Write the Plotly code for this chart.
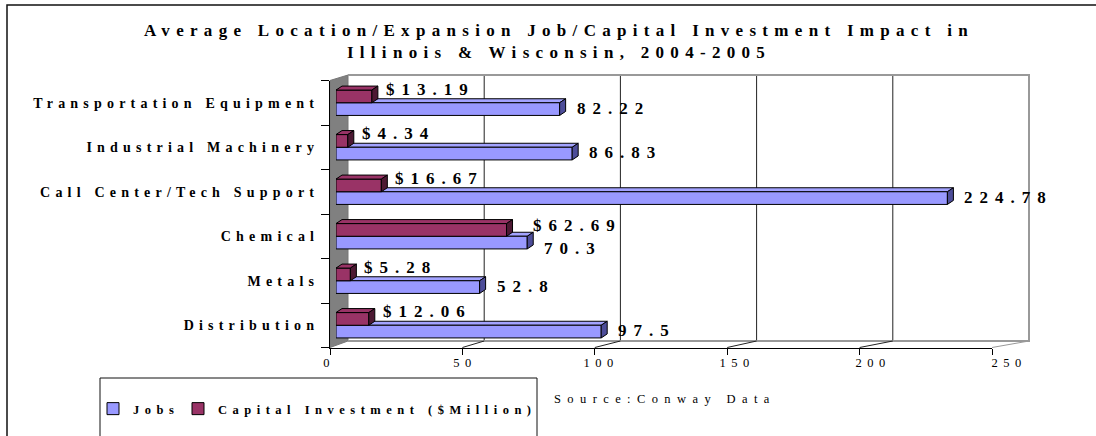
import json
import plotly.graph_objects as go

# ---- data -------------------------------------------------------------
categories = [
    "Transportation Equipment",
    "Industrial Machinery",
    "Call Center/Tech Support",
    "Chemical",
    "Metals",
    "Distribution",
]
jobs = [82.22, 86.83, 224.78, 70.3, 52.8, 97.5]
capital = [13.19, 4.34, 16.67, 62.69, 5.28, 12.06]
x_ticks = [0, 50, 100, 150, 200, 250]
series_names = ["Jobs", "Capital Investment ($Million)"]
title_text = ("Average Location/Expansion Job/Capital Investment Impact in"
              "<br>Illinois & Wisconsin, 2004-2005")
source_text = "Source:Conway Data"

# ---- geometry (pixels, figure origin top-left) -------------------------
W, H = 1096, 436
X_MAX = 250
FRONT_X0, FRONT_X1 = 330, 992        # front axis (tick scale)
WALL_X0, WALL_X1 = 348, 1029         # back wall
WALL_Y0, WALL_Y1 = 75, 341
BAR_X0, BAR_X1 = 336, 1016           # plane the bars are drawn in
CAT_Y0, CAT_Y1 = 80.5, 347.5         # category band
BAR_W = 0.285                        # bar thickness in category units
DEPTH_X, DEPTH_Y = 6, 4              # 3-D face depth in pixels

BLUE, BLUE_TOP, BLUE_DARK = "#9999FF", "#A3A3FF", "#4D4D99"
RED, RED_DARK = "#993366", "#4D1933"
FONT = "Liberation Serif"


def fx(p):
    return p / W


def fy(p):
    return 1 - p / H


def front_px(v):
    return FRONT_X0 + v * (FRONT_X1 - FRONT_X0) / X_MAX


def wall_px(v):
    return WALL_X0 + v * (WALL_X1 - WALL_X0) / X_MAX


bar_ppu = (BAR_X1 - BAR_X0) / X_MAX
band_px = (CAT_Y1 - CAT_Y0) / len(categories)
bar_h = BAR_W * band_px
dx = DEPTH_X / bar_ppu

order = list(reversed(categories))           # bottom-to-top on the axis
idx = [order.index(c) for c in categories]

fig = go.Figure()
# empty trace so the front value axis gets its own subplot
fig.add_trace(go.Scatter(x=[], y=[], xaxis="x", yaxis="y", mode="markers",
                         showlegend=False, hoverinfo="skip"))
fig.add_trace(go.Bar(
    name=series_names[0], y=categories, x=jobs, orientation="h",
    xaxis="x2", yaxis="y", width=BAR_W, offset=-BAR_W,
    marker=dict(color=BLUE, line=dict(color="black", width=1)),
))
fig.add_trace(go.Bar(
    name=series_names[1], y=categories, x=capital, orientation="h",
    xaxis="x2", yaxis="y", width=BAR_W, offset=0,
    marker=dict(color=RED, line=dict(color="black", width=1)),
))

shapes = []


def paper_pts(points, close=True):
    d = "M " + " L ".join(f"{fx(a):.5f},{fy(b):.5f}" for a, b in points)
    return d + (" Z" if close else "")


# chart frame
shapes.append(dict(type="rect", xref="paper", yref="paper", layer="below",
                   x0=fx(7), x1=fx(W + 10), y0=fy(5), y1=fy(H + 10),
                   line=dict(color="#111", width=1.5)))
# legend frame
shapes.append(dict(type="rect", xref="paper", yref="paper", layer="below",
                   x0=fx(100), x1=fx(537), y0=fy(378), y1=fy(H + 10),
                   line=dict(color="#111", width=1)))
# side wall
shapes.append(dict(type="path", xref="paper", yref="paper", layer="below",
                   path=paper_pts([(FRONT_X0, CAT_Y0), (WALL_X0, WALL_Y0),
                                   (WALL_X0, WALL_Y1), (FRONT_X0, CAT_Y1)]),
                   fillcolor="#808080", line=dict(color="#777", width=1)))
# back wall gridlines
for v in x_ticks[1:-1]:
    shapes.append(dict(type="line", xref="paper", yref="paper", layer="below",
                       x0=fx(wall_px(v)), x1=fx(wall_px(v)),
                       y0=fy(WALL_Y0), y1=fy(WALL_Y1),
                       line=dict(color="#222", width=1)))
# back wall outline and floor edge
shapes.append(dict(type="path", xref="paper", yref="paper", layer="below",
                   path=paper_pts([(WALL_X0, WALL_Y0), (WALL_X1, WALL_Y0),
                                   (WALL_X1, WALL_Y1), (WALL_X0, WALL_Y1)],
                                  close=False),
                   line=dict(color="#999", width=2)))
# floor diagonals from the front ticks to the wall
for v in x_ticks[1:]:
    shapes.append(dict(type="line", xref="paper", yref="paper", layer="below",
                       x0=fx(front_px(v)), y0=fy(CAT_Y1),
                       x1=fx(wall_px(v)), y1=fy(WALL_Y1),
                       line=dict(color="#999" if v == X_MAX else "#222", width=1)))

# 3-D top faces and end caps of the bars
for i, cat in enumerate(categories):
    k = idx[i]
    b, r = jobs[i], capital[i]
    blue_top = k
    red_top = k + BAR_W
    shapes.append(dict(type="path", xref="x2", yref="y", layer="between",
                       ysizemode="pixel", yanchor=blue_top,
                       path=f"M 0,0 L {b},0 L {b + dx},{DEPTH_Y} L {dx},{DEPTH_Y} Z",
                       fillcolor=BLUE_TOP, line=dict(color="black", width=1)))
    shapes.append(dict(type="path", xref="x2", yref="y", layer="above",
                       ysizemode="pixel", yanchor=blue_top,
                       path=(f"M {b},0 L {b + dx},{DEPTH_Y} L {b + dx},{DEPTH_Y - bar_h} "
                             f"L {b},{-bar_h} Z"),
                       fillcolor=BLUE_DARK, line=dict(color="black", width=1)))
    shapes.append(dict(type="path", xref="x2", yref="y", layer="above",
                       ysizemode="pixel", yanchor=red_top,
                       path=f"M 0,0 L {r},0 L {r + dx},{DEPTH_Y} L {dx},{DEPTH_Y} Z",
                       fillcolor=RED, line=dict(color="black", width=1)))
    shapes.append(dict(type="path", xref="x2", yref="y", layer="above",
                       ysizemode="pixel", yanchor=red_top,
                       path=(f"M {r},0 L {r + dx},{DEPTH_Y} L {r + dx},{DEPTH_Y - bar_h} "
                             f"L {r},{-bar_h} Z"),
                       fillcolor=RED_DARK, line=dict(color="black", width=1)))

# value labels
annotations = []
spacing = []
label_font = dict(family=FONT, size=17, color="black", weight="bold")
for i, cat in enumerate(categories):
    k = idx[i]
    b, r = jobs[i], capital[i]
    # nudge the pair apart when the two labels would run into each other
    clash = (b - r) * bar_ppu < 95
    annotations.append(dict(
        xref="x2", yref="y", x=r, y=k + BAR_W / 2, text=f"${r:.2f}",
        showarrow=False, xanchor="left", yanchor="middle", align="left",
        xshift=24 if clash else 12, yshift=4 if clash else 7, font=label_font))
    spacing.append(7)
    annotations.append(dict(
        xref="x2", yref="y", x=b, y=k - BAR_W / 2, text=f"{b:g}",
        showarrow=False, xanchor="left", yanchor="middle", align="left",
        xshift=15, yshift=-6 if clash else 1, font=label_font))
    spacing.append(7)

annotations.append(dict(
    xref="paper", yref="paper", x=fx(552), y=fy(399), text=source_text,
    showarrow=False, xanchor="left", yanchor="middle", align="left",
    font=dict(family=FONT, size=12.5, color="black")))
spacing.append(6.4)

fig.update_layout(
    width=W, height=H, autosize=False,
    margin=dict(l=0, r=0, t=0, b=0, autoexpand=False),
    paper_bgcolor="white", plot_bgcolor="rgba(0,0,0,0)",
    barmode="overlay",
    title=dict(text=title_text, x=fx(559), xanchor="center",
               y=fy(36), yanchor="middle",
               font=dict(family=FONT, size=17, color="black", weight="bold")),
    # front edge of the floor: axis line and tick marks
    xaxis=dict(domain=[fx(FRONT_X0), fx(FRONT_X1)], anchor="y", range=[0, X_MAX],
               tickmode="array", tickvals=x_ticks, ticks="outside", ticklen=6,
               tickcolor="black", showline=True, linecolor="black", linewidth=1,
               showticklabels=False,
               showgrid=False, zeroline=False, fixedrange=True, automargin=False),
    # value scale in the plane of the bars; carries the tick labels
    xaxis2=dict(domain=[fx(BAR_X0), fx(BAR_X1)], anchor="y", range=[0, X_MAX],
                tickmode="array", tickvals=x_ticks, ticks="", showline=False,
                showgrid=False, zeroline=False, fixedrange=True, automargin=False,
                ticklabelstandoff=6, ticklabelshift=-7,
                tickfont=dict(family=FONT, size=12.5, color="black")),
    yaxis=dict(domain=[fy(CAT_Y1), fy(CAT_Y0)], anchor="x", type="category",
               categoryorder="array", categoryarray=order,
               range=[-0.5, len(categories) - 0.5],
               ticks="outside", ticklen=8, tickcolor="black", tickson="boundaries",
               showline=True, linecolor="black", linewidth=1,
               showgrid=False, zeroline=False, fixedrange=True, automargin=False,
               ticklabelstandoff=7,
               tickfont=dict(family=FONT, size=14, color="black", weight="bold")),
    legend=dict(orientation="h", x=fx(93), xanchor="left", y=fy(409),
                yanchor="middle", bgcolor="rgba(0,0,0,0)", borderwidth=0,
                itemwidth=30, entrywidth=40,
                font=dict(family=FONT, size=12.5, color="black", weight="bold")),
    shapes=shapes,
    annotations=annotations,
    showlegend=True,
)

# wide letter spacing used throughout the chart's typography
post = """
var gd = document.getElementById('{plot_id}');
function sp(sel, v) {
  gd.querySelectorAll(sel).forEach(function (t) { t.style.letterSpacing = v + 'px'; });
}
sp('.gtitle', 6.3);
sp('.x2tick text', 5.5);
sp('.ytick text', 5.2);
sp('.legendtext', 5.5);
gd.querySelectorAll('.legend .scrollbox').forEach(function (g) {
  g.removeAttribute('clip-path');
});
var ann = ANN_SPACING;
gd.querySelectorAll('g.annotation').forEach(function (g) {
  var i = +g.getAttribute('data-index');
  var t = g.querySelector('text');
  if (t && ann[i] !== undefined) { t.style.letterSpacing = ann[i] + 'px'; }
});
""".replace("ANN_SPACING", json.dumps(spacing))

fig.write_html("out.html", post_script=post, config={"displayModeBar": False})
